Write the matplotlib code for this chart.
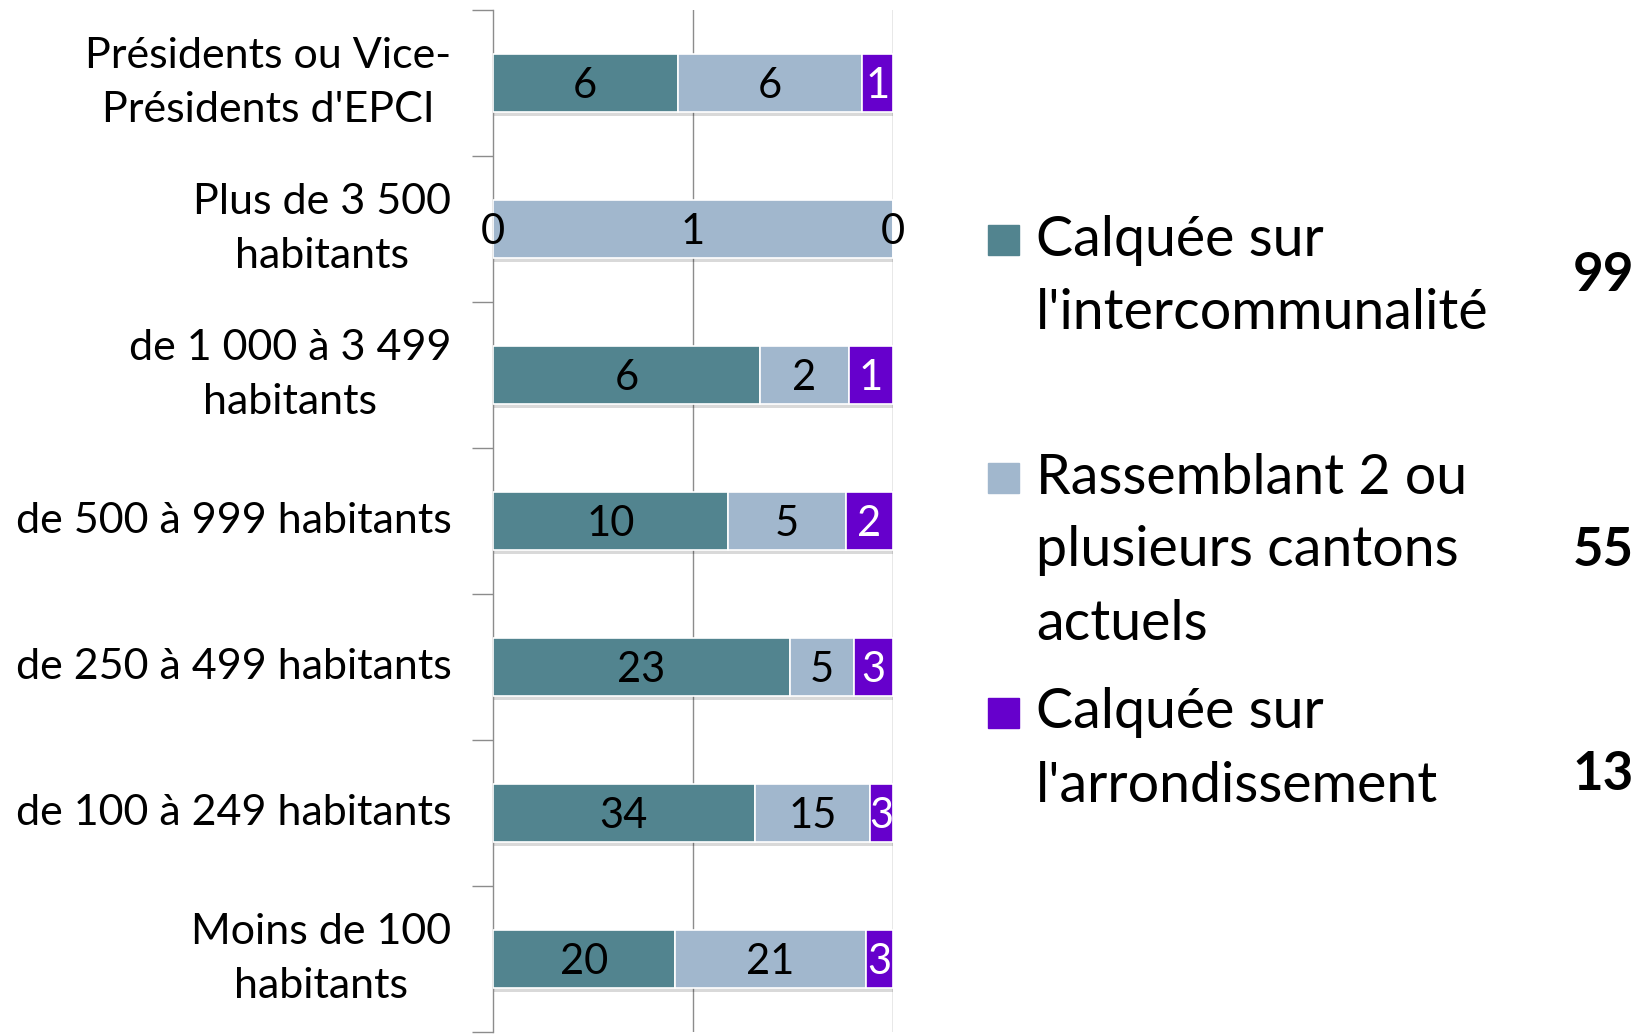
import matplotlib
matplotlib.use("Agg")
import matplotlib.pyplot as plt
import matplotlib.patheffects as pe
from matplotlib.patches import Rectangle
import numpy as np

plt.rcParams['font.family'] = ['Lato', 'DejaVu Sans']

categories = ["Présidents ou Vice-\nPrésidents d'EPCI",
              "Plus de 3 500\nhabitants",
              "de 1 000 à 3 499\nhabitants",
              "de 500 à 999 habitants",
              "de 250 à 499 habitants",
              "de 100 à 249 habitants",
              "Moins de 100\nhabitants"]
intercommunalite = [6, 0, 6, 10, 23, 34, 20]
rassemblant = [6, 1, 2, 5, 5, 15, 21]
arrondissement = [1, 0, 1, 2, 3, 3, 3]
series_names = ["Calquée sur\nl'intercommunalité",
                "Rassemblant 2 ou\nplusieurs cantons\nactuels",
                "Calquée sur\nl'arrondissement"]
totals = [99, 55, 13]
colors = ["#52848F", "#A1B7CD", "#6600CC"]
label_colors = ["black", "black", "white"]

W, H = 1640, 1035
fig = plt.figure(figsize=(W/100, H/100), dpi=100)
ax = fig.add_axes([493/W, 1 - 1032/H, 400/W, 1022/H])

data = np.array([intercommunalite, rassemblant, arrondissement], dtype=float)
totals_row = data.sum(axis=0)
shares = data / totals_row
y = np.arange(len(categories))
left = np.zeros(len(categories))
shadow = [pe.SimplePatchShadow(offset=(1.0, -3), alpha=0.15, shadow_rgbFace='black'), pe.Normal()]
for i in range(3):
    bars = ax.barh(y, shares[i], left=left, height=0.4, color=colors[i],
                   edgecolor='white', linewidth=1.2, zorder=3)
    for b in bars:
        b.set_path_effects(shadow)
    for j in range(len(categories)):
        col = label_colors[i] if data[i][j] > 0 else "black"
        ax.text(left[j] + shares[i][j] / 2, y[j] + 0.02, f"{int(data[i][j])}",
                ha='center', va='center', fontsize=30, color=col,
                zorder=5, clip_on=False)
    left += shares[i]

ax.set_xlim(0, 1)
ax.set_ylim(len(categories) - 0.5, -0.5)
ax.set_xticks([0.5, 1.0])
ax.tick_params(axis='x', length=0, labelbottom=False)
ax.grid(axis='x', color='#8c8c8c', linewidth=1.0, zorder=0)
ax.set_yticks(np.arange(-0.5, len(categories), 1.0))
ax.set_yticklabels([])
ax.set_yticks(y, minor=True)
ax.set_yticklabels(categories, minor=True, fontsize=31)
ax.tick_params(axis='y', which='major', length=15, color='#8c8c8c', width=1.0)
ax.tick_params(axis='y', which='minor', length=0, pad=30)
for t in ax.get_yticklabels(minor=True):
    t.set_multialignment('center')
    t.set_linespacing(1.5)
    t.set_verticalalignment('center')
for s in ['top', 'right', 'bottom']:
    ax.spines[s].set_visible(False)
ax.spines['left'].set_color('#8c8c8c')
ax.spines['left'].set_linewidth(1.0)

# legend
sq_y = [240, 478, 713]
line_step = 73
for k in range(3):
    fig.patches.append(Rectangle((988/W, 1 - (sq_y[k] + 15)/H), 31/W, 30/H,
                                 transform=fig.transFigure, color=colors[k]))
    lines = series_names[k].split("\n")
    for li, line in enumerate(lines):
        fig.text(1036/W, 1 - (sq_y[k] + li*line_step)/H, line, fontsize=40,
                 ha='left', va='center')
total_y = [275, 551, 774]
for k in range(3):
    fig.text(1634/W, 1 - total_y[k]/H, str(totals[k]), fontsize=38, fontweight='bold',
             ha='right', va='center')

fig.savefig("out.png", dpi=100)
